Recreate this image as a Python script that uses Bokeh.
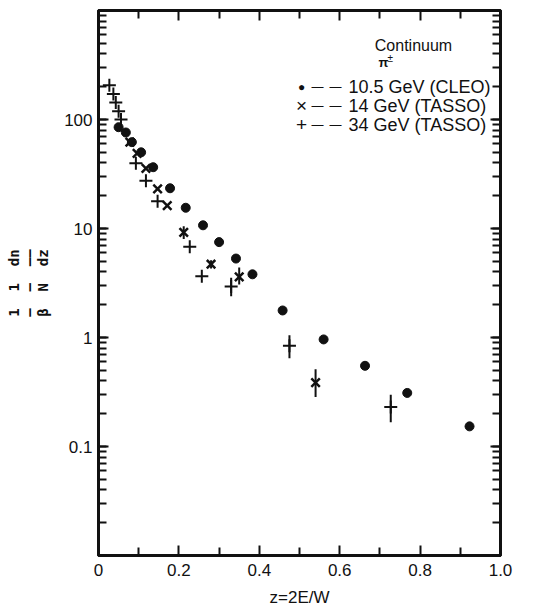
from bokeh.plotting import figure
from bokeh.models import (FixedTicker, LinearAxis, LogAxis, Label,
                          CustomJSTickFormatter)
from bokeh.embed import file_html
from bokeh.resources import INLINE

# ---- data ----
cleo_z = [0.050, 0.068, 0.083, 0.106, 0.136, 0.178, 0.217, 0.260, 0.300,
          0.342, 0.383, 0.458, 0.560, 0.663, 0.768, 0.923]
cleo_y = [85, 76, 62, 50, 36.5, 23.4, 15.5, 10.7, 7.5,
          5.3, 3.8, 1.77, 0.96, 0.55, 0.31, 0.153]

tasso14_z = [0.078, 0.096, 0.118, 0.147, 0.171, 0.212, 0.280, 0.350, 0.540]
tasso14_y = [62, 49, 35.6, 23.1, 16.2, 9.2, 4.7, 3.6, 0.385]
tasso14_lo = [62, 49, 35.6, 23.1, 16.2, 8.0, 4.3, 3.06, 0.284]
tasso14_hi = [62, 49, 35.6, 23.1, 16.2, 10.5, 5.1, 4.38, 0.512]

tasso34_z = [0.027, 0.037, 0.043, 0.050, 0.056, 0.093, 0.118, 0.147,
             0.227, 0.257, 0.330, 0.475, 0.727]
tasso34_y = [206, 171, 143, 119, 100, 39.7, 27.4, 17.8,
             6.8, 3.65, 2.94, 0.84, 0.23]
tasso34_lo = [206, 171, 143, 119, 100, 39.7, 27.4, 17.8,
              6.8, 3.65, 2.39, 0.645, 0.167]
tasso34_hi = [206, 171, 143, 119, 100, 39.7, 27.4, 17.8,
              6.8, 3.65, 3.53, 1.05, 0.298]

x_major = [0, 0.2, 0.4, 0.6, 0.8, 1.0]
x_minor = [0.1, 0.3, 0.5, 0.7, 0.9]
y_major = [0.1, 1, 10, 100]
y_minor = [m * 10 ** e for e in range(-2, 3) for m in range(1, 10)] + [1000]

legend_rows = ["10.5 GeV  (CLEO)", "14  GeV (TASSO)", "34  GeV (TASSO)"]
legend_marks = ["\u25CF", "\u00D7", "+"]
GAP = "\u00A0\u00A0"
y_label = "\n".join([
    "1" + GAP + "1" + GAP + "dn",
    "\u2014" + GAP + "\u2014" + GAP + "\u2014\u2014",
    "\u03B2" + GAP + "N" + GAP + "dz",
])
x_label = "z=2E/W"

FONT = "Liberation Sans"
BLACK = "#111111"

p = figure(width=542, height=609, x_range=(0, 1), y_range=(0.01, 1000),
           y_axis_type="log", output_backend="svg", toolbar_location=None,
           min_border_left=98, min_border_right=42, min_border_top=10,
           min_border_bottom=52)
p.grid.visible = False
p.outline_line_color = BLACK
p.outline_line_width = 3
p.background_fill_color = "white"

bottom = p.below[0]
left = p.left[0]

xt = FixedTicker(ticks=x_major, minor_ticks=x_minor)
yt = FixedTicker(ticks=y_major, minor_ticks=y_minor)

bottom.ticker = xt
bottom.formatter = CustomJSTickFormatter(
    code="return tick == 0 ? '0' : tick.toFixed(1);")
left.ticker = yt
left.formatter = CustomJSTickFormatter(code="return String(tick);")

top = LinearAxis(ticker=xt,
                 formatter=CustomJSTickFormatter(code="return '';"))
right = LogAxis(ticker=yt,
                formatter=CustomJSTickFormatter(code="return '';"))
p.add_layout(top, "above")
p.add_layout(right, "right")

for ax in [bottom, left, top, right]:
    ax.axis_line_color = BLACK
    ax.axis_line_width = 3
    ax.major_tick_in = 10
    ax.major_tick_out = 0
    ax.minor_tick_in = 8
    ax.minor_tick_out = 0
    ax.major_tick_line_width = 2
    ax.minor_tick_line_width = 2
    ax.major_tick_line_color = BLACK
    ax.minor_tick_line_color = BLACK
    ax.major_label_text_font = FONT
    ax.major_label_text_font_size = "17px"
    ax.major_label_text_color = BLACK

bottom.major_label_standoff = 8
left.major_label_standoff = 6

bottom.axis_label = x_label
bottom.axis_label_text_font = FONT
bottom.axis_label_text_font_style = "normal"
bottom.axis_label_text_font_size = "17px"
bottom.axis_label_standoff = 9
bottom.axis_label_text_color = BLACK

left.axis_label = y_label
left.axis_label_text_font = "DejaVu Sans Mono"
left.axis_label_text_font_style = "bold"
left.axis_label_text_font_size = "14px"
left.axis_label_standoff = 10
left.axis_label_text_color = BLACK
left.axis_label_text_line_height = 0.9

# ---- data marks ----
p.segment(x0=tasso14_z, x1=tasso14_z, y0=tasso14_lo, y1=tasso14_hi,
          line_color=BLACK, line_width=2)
p.segment(x0=tasso34_z, x1=tasso34_z, y0=tasso34_lo, y1=tasso34_hi,
          line_color=BLACK, line_width=2)
p.scatter(cleo_z, cleo_y, marker="circle", size=9, fill_color=BLACK,
          line_color=BLACK)
p.scatter(tasso14_z, tasso14_y, marker="x", size=12, line_color=BLACK,
          line_width=2.5)
p.scatter(tasso34_z, tasso34_y, marker="cross", size=13, line_color=BLACK,
          line_width=2)

# ---- legend texts, screen units relative to the frame ----
FL, FB = 98, 557   # frame left / bottom in canvas px


def lab(cx, cy, text, size, align="center", style="normal"):
    p.add_layout(Label(x=cx - FL, y=FB - cy, x_units="screen",
                       y_units="screen", text=text,
                       text_align=align, text_baseline="middle",
                       text_font=FONT, text_font_size=size,
                       text_font_style=style, text_color=BLACK))


lab(413, 47, "Continuum", "16px")
lab(378, 64, "\u03C0", "13px", align="left", style="bold")
lab(387, 60, "\u00B1", "10px", align="left")
for cy, mk, txt in zip([88, 107, 126], legend_marks, legend_rows):
    lab(301, cy, mk, "12px" if mk == "\u25CF" else "19px")
    lab(326, cy, "\u2014\u2002\u2014", "12px")
    lab(348, cy, txt, "18px", align="left")

open("out.html", "w").write(file_html(p, INLINE))
